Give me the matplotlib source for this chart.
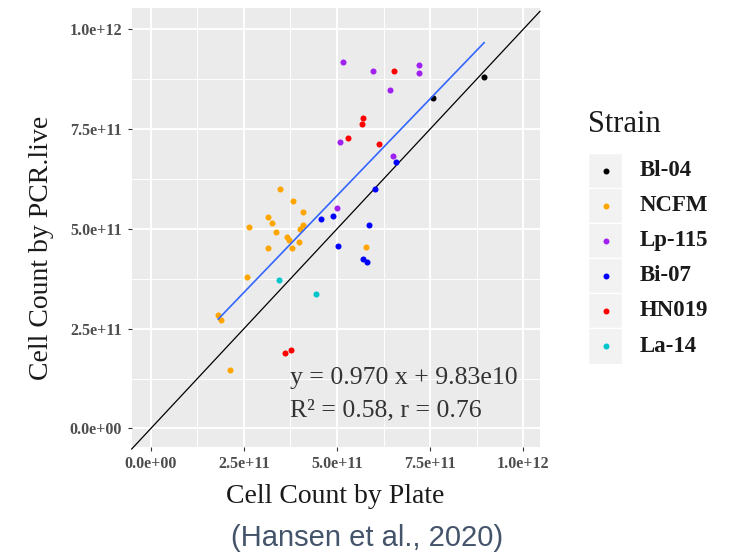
import numpy as np
import matplotlib.pyplot as plt
from matplotlib.patches import Rectangle
from matplotlib.lines import Line2D
from matplotlib.ticker import MultipleLocator, FuncFormatter

# strains and colours (ggplot / R colour names)
strains = ["Bl-04", "NCFM", "Lp-115", "Bi-07", "HN019", "La-14"]
colors = ["#000000", "#FFA500", "#A020F0", "#0000FF", "#FF0000", "#00C5CD"]

# cell counts, in units of 1e11
bl04_plate = [7.57, 8.95]
bl04_pcr = [8.27, 8.81]

ncfm_plate = [3.47, 3.81, 4.08, 3.16, 3.26, 2.64, 4.10, 4.00, 3.36, 3.65,
              3.70, 3.99, 3.79, 3.16, 5.77, 2.58, 1.81, 1.88, 2.13]
ncfm_pcr = [6.00, 5.69, 5.43, 5.31, 5.16, 5.05, 5.10, 4.99, 4.92, 4.80,
            4.71, 4.68, 4.52, 4.53, 4.55, 3.80, 2.85, 2.72, 1.47]

lp115_plate = [5.15, 5.98, 7.21, 7.21, 6.42, 5.09, 6.50, 4.99]
lp115_pcr = [9.18, 8.96, 9.11, 8.90, 8.48, 7.18, 6.83, 5.52]

bi07_plate = [6.58, 6.03, 4.57, 4.90, 5.87, 5.02, 5.71, 5.81]
bi07_pcr = [6.68, 5.99, 5.24, 5.33, 5.09, 4.57, 4.24, 4.18]

hn019_plate = [6.54, 5.71, 5.68, 5.30, 6.12, 3.60, 3.77]
hn019_pcr = [8.96, 7.77, 7.62, 7.27, 7.13, 1.90, 1.96]

la14_plate = [3.44, 4.44]
la14_pcr = [3.72, 3.36]

plate = [bl04_plate, ncfm_plate, lp115_plate, bi07_plate, hn019_plate, la14_plate]
pcr = [bl04_pcr, ncfm_pcr, lp115_pcr, bi07_pcr, hn019_pcr, la14_pcr]

# fitted line from the paper
slope = 0.970
intercept = 9.83e10

W, H = 735, 555
fig = plt.figure(figsize=(W / 100, H / 100), dpi=100)
ax = fig.add_axes([131.7 / W, 1 - 446.7 / H, (540 - 131.7) / W, (446.7 - 8.3) / H])

ax.set_facecolor("#EBEBEB")
for s in ax.spines.values():
    s.set_visible(False)

xlim = (-5.13e10, 1.0451e12)
ylim = (-4.56e10, 1.0526e12)
ax.set_xlim(xlim)
ax.set_ylim(ylim)

ax.xaxis.set_major_locator(MultipleLocator(2.5e11))
ax.yaxis.set_major_locator(MultipleLocator(2.5e11))
ax.xaxis.set_minor_locator(MultipleLocator(1.25e11))
ax.yaxis.set_minor_locator(MultipleLocator(1.25e11))
fmt = FuncFormatter(lambda v, p: "{:.1e}".format(v))
ax.xaxis.set_major_formatter(fmt)
ax.yaxis.set_major_formatter(fmt)

ax.grid(which="major", color="white", linewidth=1.4)
ax.grid(which="minor", color="white", linewidth=0.7)
ax.set_axisbelow(True)
ax.tick_params(which="minor", length=0)
ax.tick_params(which="major", length=3, width=0.8, color="#333333", pad=4,
               labelsize=11.5, labelcolor="#4D4D4D")
for lab in ax.get_xticklabels() + ax.get_yticklabels():
    lab.set_family("Liberation Serif")
    lab.set_weight("bold")

# 1:1 line
ax.plot(xlim, xlim, color="#000000", linewidth=0.9, clip_on=False, zorder=2)

for i in range(len(strains)):
    ax.scatter(np.array(plate[i]) * 1e11, np.array(pcr[i]) * 1e11, s=19,
               color=colors[i], linewidths=0, zorder=3)

all_x = np.concatenate([np.array(p) for p in plate]) * 1e11
fx = np.array([all_x.min(), all_x.max()])
ax.plot(fx, slope * fx + intercept, color="#3366FF", linewidth=1.2, zorder=4)

ax.text(3.74e11, 1.26e11, "y = 0.970 x + 9.83e10", fontsize=18.5,
        family="Liberation Serif", color="#333333", va="center", ha="left")
ax.text(3.74e11, 4.6e10, "R² = 0.58, r = 0.76", fontsize=18.5,
        family="Liberation Serif", color="#333333", va="center", ha="left")

fig.text(335 / W, 1 - 496.7 / H, "Cell Count by Plate", fontsize=20,
         family="Liberation Serif", color="#1A1A1A", ha="center", va="center")
fig.text(41.7 / W, 1 - 247.5 / H, "Cell Count by PCR.live", fontsize=20,
         family="Liberation Serif", color="#1A1A1A", ha="center", va="center",
         rotation=90)

# legend
fig.text(588 / W, 1 - 125 / H, "Strain", fontsize=22, family="Liberation Serif",
         color="#1A1A1A", ha="left", va="center")
for i in range(len(strains)):
    cy = 170.5 + 35.1 * i
    fig.add_artist(Rectangle((588 / W, 1 - (cy + 17.5) / H), 33.7 / W, 35.1 / H,
                             transform=fig.transFigure, facecolor="#F2F2F2",
                             edgecolor="white", linewidth=1))
    fig.add_artist(Line2D([605.5 / W], [1 - cy / H], marker="o", markersize=4.3,
                          color=colors[i], markeredgewidth=0, linestyle="none",
                          transform=fig.transFigure))
    fig.text(640 / W, 1 - cy / H, strains[i], fontsize=16.5, weight="bold",
             family="Liberation Serif", color="#1A1A1A", ha="left", va="center")

fig.text(366.7 / W, 1 - 538.5 / H, "(Hansen et al., 2020)", fontsize=21,
         family="Liberation Sans", color="#44546A", ha="center", va="center")

fig.savefig("out.png", dpi=100)
